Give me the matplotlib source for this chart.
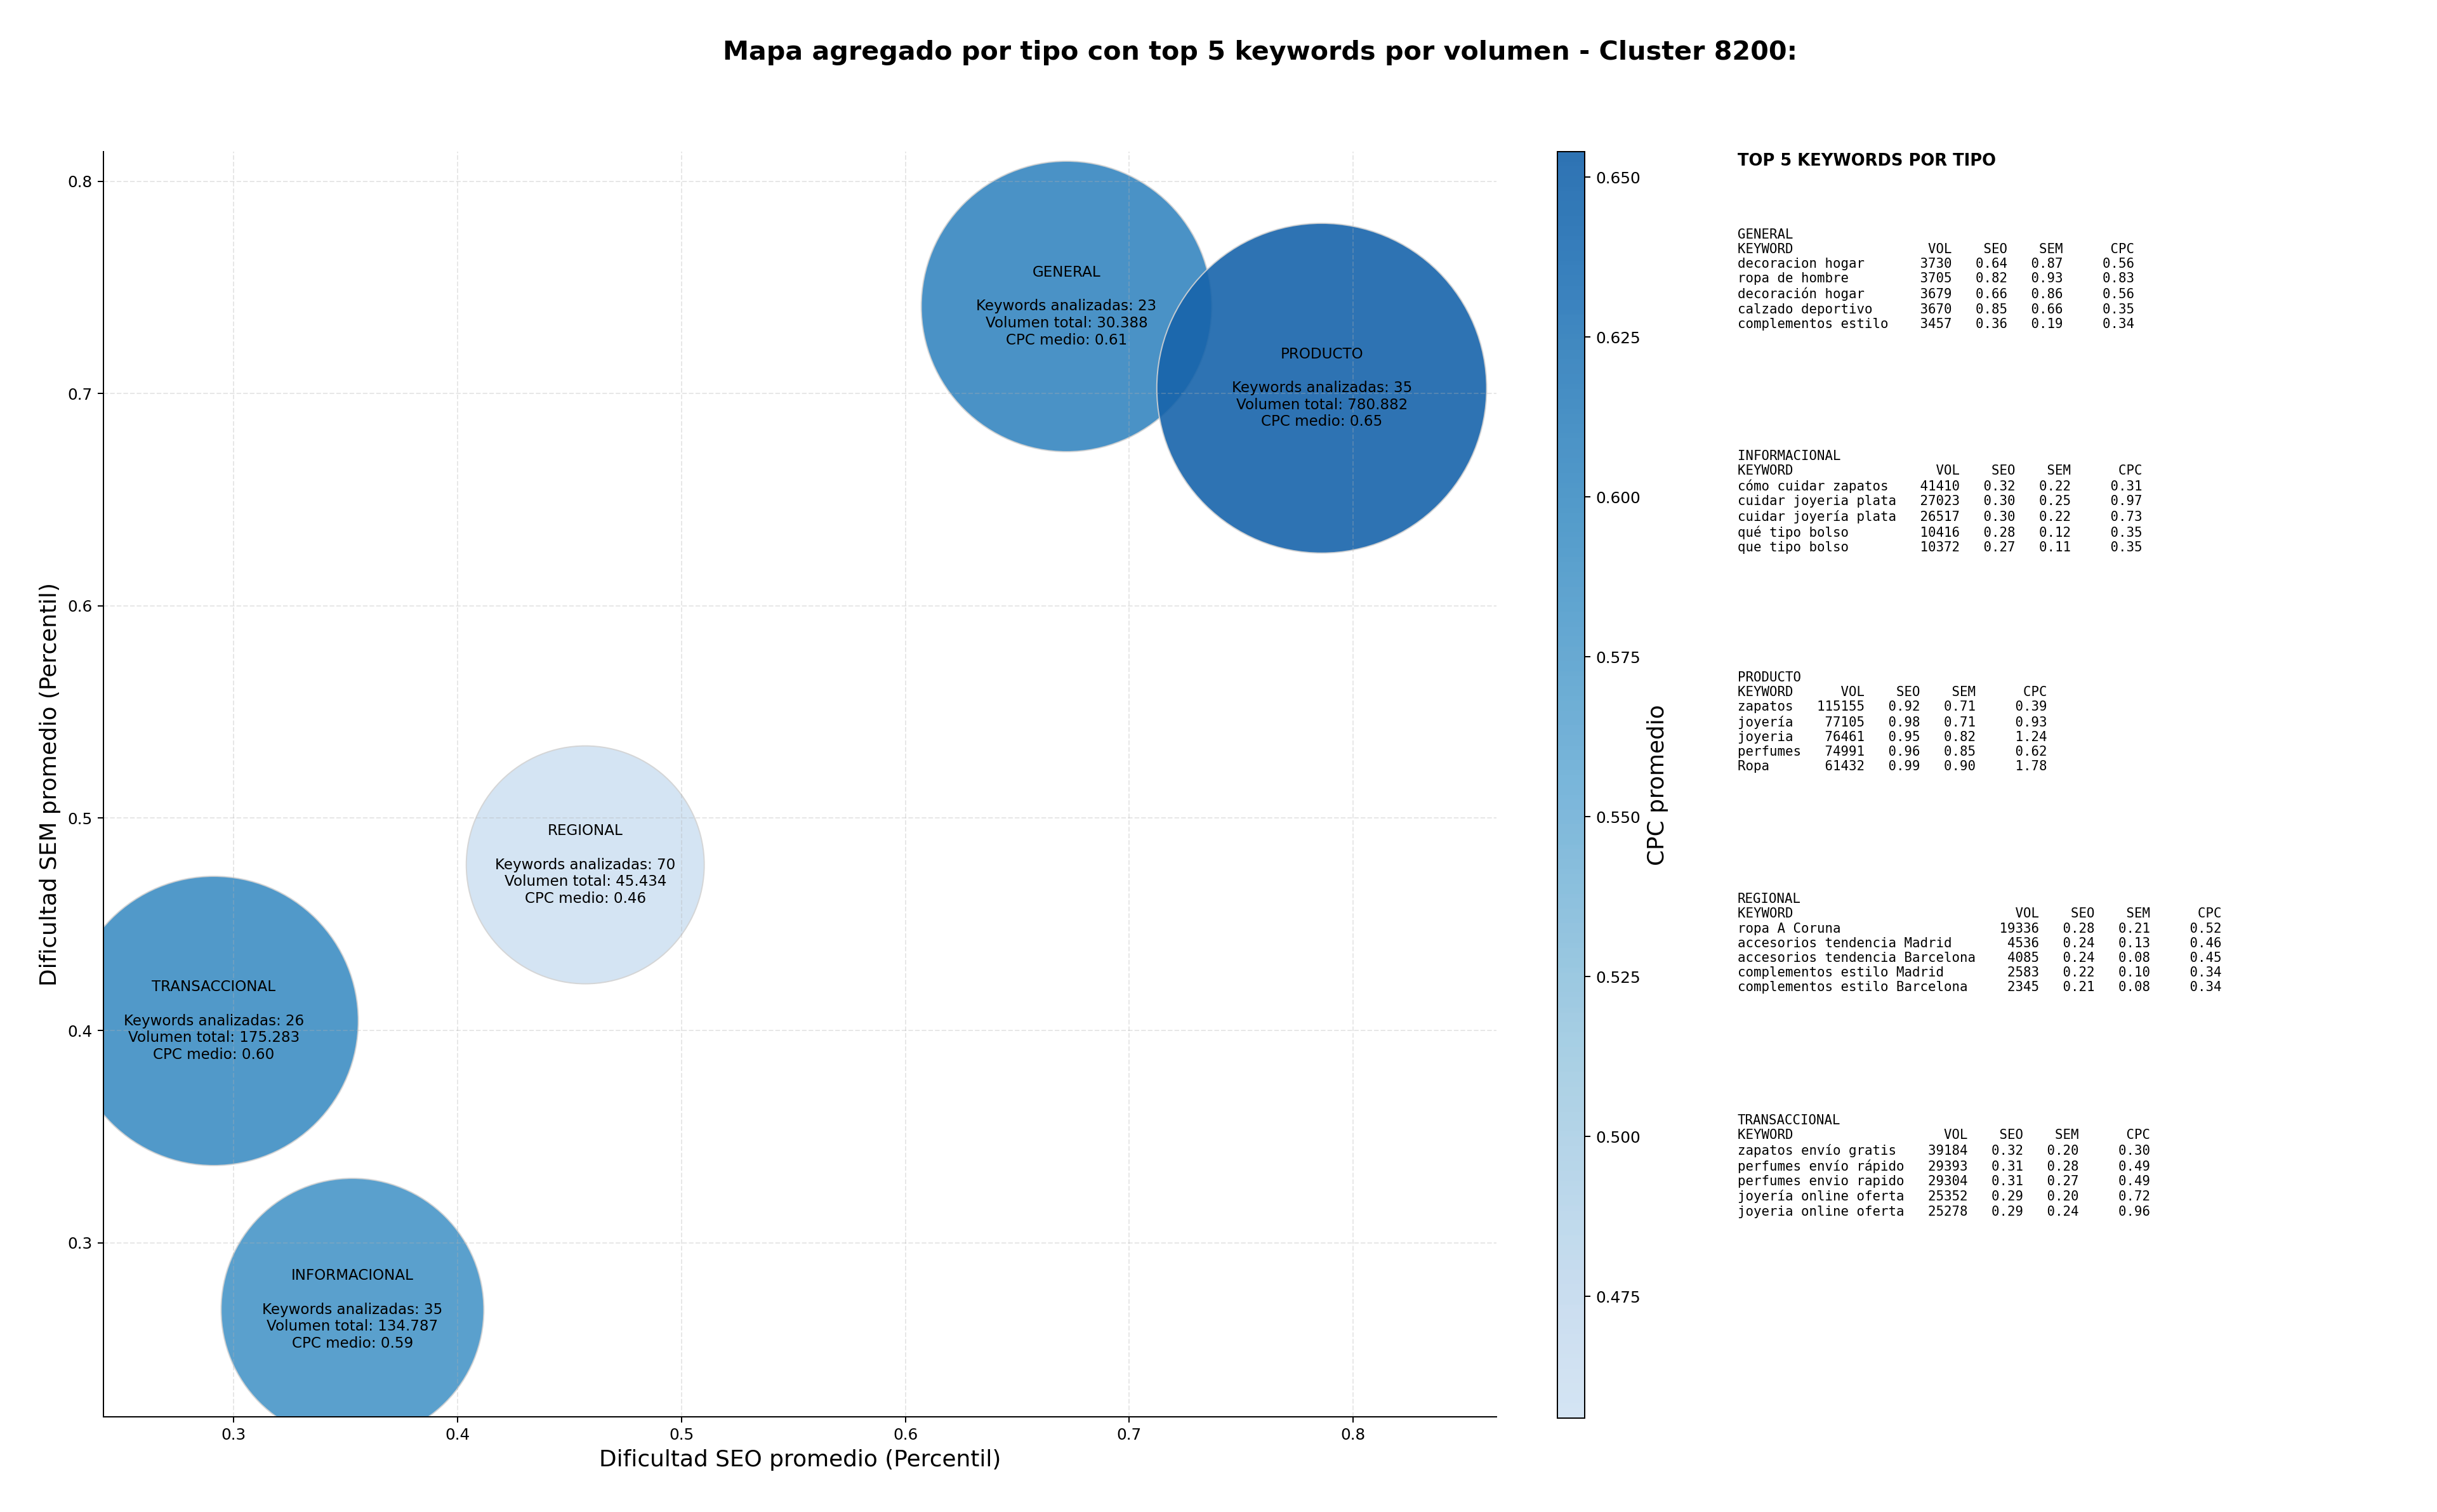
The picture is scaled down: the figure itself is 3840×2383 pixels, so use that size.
import numpy as np
import matplotlib
matplotlib.use("Agg")
import matplotlib.pyplot as plt
from matplotlib.colors import LinearSegmentedColormap, Normalize

# aggregated data per search-intent type
tipos = ["GENERAL", "INFORMACIONAL", "PRODUCTO", "REGIONAL", "TRANSACCIONAL"]
seo_prom = [0.672, 0.353, 0.786, 0.457, 0.291]
sem_prom = [0.741, 0.2685, 0.7025, 0.478, 0.4045]
cpc_prom = [0.61, 0.59, 0.654, 0.456, 0.60]
n_keywords = [23, 35, 35, 70, 26]
vol_total = [30388, 134787, 780882, 45434, 175283]
bubble_size = [34300, 28050, 44200, 23000, 34000]

# top 5 keywords por tipo: (keyword, vol, seo, sem, cpc)
top_general = [
    ("decoracion hogar", 3730, 0.64, 0.87, 0.56),
    ("ropa de hombre", 3705, 0.82, 0.93, 0.83),
    ("decoración hogar", 3679, 0.66, 0.86, 0.56),
    ("calzado deportivo", 3670, 0.85, 0.66, 0.35),
    ("complementos estilo", 3457, 0.36, 0.19, 0.34),
]
top_informacional = [
    ("cómo cuidar zapatos", 41410, 0.32, 0.22, 0.31),
    ("cuidar joyeria plata", 27023, 0.30, 0.25, 0.97),
    ("cuidar joyería plata", 26517, 0.30, 0.22, 0.73),
    ("qué tipo bolso", 10416, 0.28, 0.12, 0.35),
    ("que tipo bolso", 10372, 0.27, 0.11, 0.35),
]
top_producto = [
    ("zapatos", 115155, 0.92, 0.71, 0.39),
    ("joyería", 77105, 0.98, 0.71, 0.93),
    ("joyeria", 76461, 0.95, 0.82, 1.24),
    ("perfumes", 74991, 0.96, 0.85, 0.62),
    ("Ropa", 61432, 0.99, 0.90, 1.78),
]
top_regional = [
    ("ropa A Coruna", 19336, 0.28, 0.21, 0.52),
    ("accesorios tendencia Madrid", 4536, 0.24, 0.13, 0.46),
    ("accesorios tendencia Barcelona", 4085, 0.24, 0.08, 0.45),
    ("complementos estilo Madrid", 2583, 0.22, 0.10, 0.34),
    ("complementos estilo Barcelona", 2345, 0.21, 0.08, 0.34),
]
top_transaccional = [
    ("zapatos envío gratis", 39184, 0.32, 0.20, 0.30),
    ("perfumes envío rápido", 29393, 0.31, 0.28, 0.49),
    ("perfumes envio rapido", 29304, 0.31, 0.27, 0.49),
    ("joyería online oferta", 25352, 0.29, 0.20, 0.72),
    ("joyeria online oferta", 25278, 0.29, 0.24, 0.96),
]
tops = [top_general, top_informacional, top_producto, top_regional, top_transaccional]


def fmt_vol(v):
    return f"{v:,}".replace(",", ".")


DPI = 178
fig = plt.figure(figsize=(3840 / DPI, 2383 / DPI), dpi=DPI)

# truncated Blues so the lightest bubble is still visible
cmap = LinearSegmentedColormap.from_list("blues_trunc", plt.cm.Blues(np.linspace(0.2, 0.8, 256)))
norm = Normalize(vmin=min(cpc_prom), vmax=max(cpc_prom))

ax = fig.add_axes([0.0424, 0.0629, 0.5716, 0.8368])
sc = ax.scatter(seo_prom, sem_prom, s=bubble_size, c=cpc_prom, cmap=cmap, norm=norm,
                alpha=0.9, edgecolors="lightgray", linewidths=0.8)

for i, t in enumerate(tipos):
    label = (f"{t}\n\nKeywords analizadas: {n_keywords[i]}\n"
             f"Volumen total: {fmt_vol(vol_total[i])}\nCPC medio: {cpc_prom[i]:.2f}")
    ax.text(seo_prom[i], sem_prom[i], label, ha="center", va="center", fontsize=9.3)

ax.set_xlim(0.2417, 0.864)
ax.set_ylim(0.218, 0.8139)
ax.set_xlabel("Dificultad SEO promedio (Percentil)", fontsize=14.5)
ax.set_ylabel("Dificultad SEM promedio (Percentil)", fontsize=14.5)
ax.grid(True, linestyle="--", alpha=0.3)
ax.spines["top"].set_visible(False)
ax.spines["right"].set_visible(False)

cax = fig.add_axes([0.639, 0.0621, 0.0112, 0.8376])
cb = fig.colorbar(sc, cax=cax)
cb.set_label("CPC promedio", fontsize=14.5)

fig.text(0.517, 0.965, "Mapa agregado por tipo con top 5 keywords por volumen - Cluster 8200:",
         ha="center", va="center", fontsize=16.7, fontweight="bold")

# panel de texto con las tablas
x0 = 0.713
fig.text(x0, 0.899, "TOP 5 KEYWORDS POR TIPO", ha="left", va="top", fontsize=10.4, fontweight="bold")
for i, (t, rows) in enumerate(zip(tipos, tops)):
    L = max(len(r[0]) for r in rows)
    lines = [t, f"{'KEYWORD':<{L}}  {'VOL':>6}{'SEO':>7}{'SEM':>7}{'CPC':>9}"]
    for kw, vol, seo, sem, cpc in rows:
        lines.append(f"{kw:<{L}}  {vol:>6}{seo:>7.2f}{sem:>7.2f}{cpc:>9.2f}")
    fig.text(x0, 0.849 - i * 0.1465, "\n".join(lines), ha="left", va="top",
             fontsize=8.4, family="DejaVu Sans Mono")

fig.savefig("out.png", dpi=DPI)
